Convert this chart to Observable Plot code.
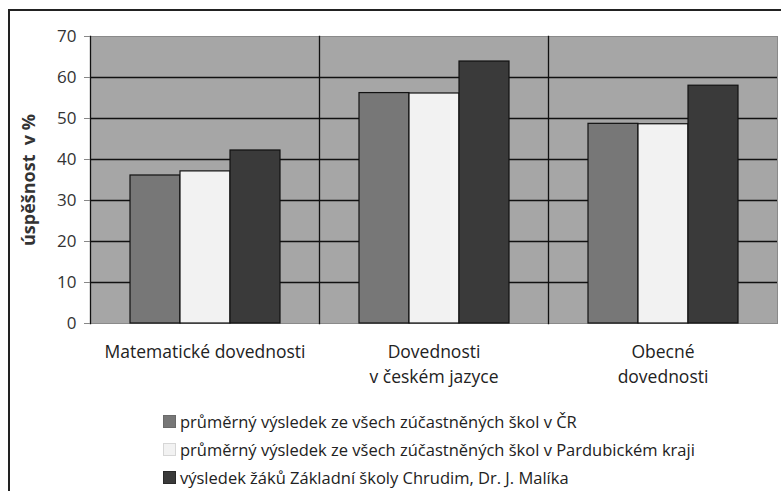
<!DOCTYPE html>
<html>
<head>
<meta charset="utf-8">
<script src="https://cdn.jsdelivr.net/npm/d3@7"></script>
<script src="https://cdn.jsdelivr.net/npm/@observablehq/plot@0.6"></script>
<style>
  html, body { margin: 0; padding: 0; background: #fff; }
  #wrap { position: relative; width: 781px; height: 491px; overflow: hidden; font-family: "Open Sans", sans-serif; }
  #border { position: absolute; left: 8px; top: 9px; width: 800px; height: 500px; border-left: 2px solid #222; border-top: 2px solid #222; }
  #chart { position: absolute; left: 0; top: 0; }
  #chart svg { font-family: "Open Sans", sans-serif; }
  #chart svg [aria-label="y-axis label"] text { font-weight: bold; font-size: 18px; }
  #legend { position: absolute; left: 163px; top: 407px; font-size: 16.5px; color: #222; }
  .item { display: flex; align-items: center; height: 28px; }
  .sw { width: 13px; height: 13px; margin-right: 4px; box-sizing: border-box; }
</style>
</head>
<body>
<div id="wrap">
  <div id="border"></div>
  <div id="chart"></div>
  <div id="legend"></div>
</div>
<script>
const categories = ["Matematické dovednosti", "Dovednosti\nv českém jazyce", "Obecné\ndovednosti"];
const series = [
  "průměrný výsledek ze všech zúčastněných škol v ČR",
  "průměrný výsledek ze všech zúčastněných škol v Pardubickém kraji",
  "výsledek žáků Základní školy Chrudim, Dr. J. Malíka"
];
const valuesCR = [36.1, 56.2, 48.7];
const valuesKraj = [37.1, 56.1, 48.6];
const valuesSchool = [42.2, 63.9, 58.0];
const colors = ["#777777", "#f2f2f2", "#3a3a3a"];
const yTicks = [0, 10, 20, 30, 40, 50, 60, 70];
const yLabel = "úspěšnost\u00a0 v %";

const seriesValues = [valuesCR, valuesKraj, valuesSchool];
const data = [];
categories.forEach((c, i) => {
  series.forEach((s, j) => data.push({category: c, series: s, value: seriesValues[j][i]}));
});

const H = 395;
const chart = Plot.plot({
  width: 781,
  height: H,
  marginLeft: 89,
  marginRight: 4,
  marginTop: 36,
  marginBottom: H - 323,
  fx: {domain: categories, padding: 0, label: null},
  x: {domain: series, paddingInner: 0, paddingOuter: 0.75, axis: null},
  y: {domain: [0, 70], label: yLabel, labelAnchor: "center"},
  color: {domain: series, range: colors},
  marks: [
    Plot.frame({fill: "#a6a6a6", stroke: "#8a8a8a"}),
    Plot.ruleY(yTicks.slice(1, -1), {stroke: "#111", strokeWidth: 1.3}),
    Plot.barY(data, {fx: "category", x: "series", y: "value", fill: "series", stroke: "#111", strokeWidth: 1.2, inset: 0}),
    Plot.frame({anchor: "left", stroke: "#111", strokeWidth: 1.3}),
    Plot.axisY({ticks: yTicks, tickSize: 6, stroke: "#888", tickPadding: 8, fontSize: 17, color: "#333", label: yLabel, labelAnchor: "center", labelOffset: 68, labelArrow: "none"}),
    Plot.axisFx({anchor: "bottom", tickSize: 0, tickPadding: 16, fontSize: 17.5, lineHeight: 1.45, color: "#222", label: null})
  ]
});
document.getElementById("chart").appendChild(chart);

const legend = document.getElementById("legend");
const borders = ["#6a6a6a", "#d6d6d6", "#2a2a2a"];
series.forEach((s, j) => {
  const item = document.createElement("div");
  item.className = "item";
  const sw = document.createElement("span");
  sw.className = "sw";
  sw.style.background = colors[j];
  sw.style.border = "1px solid " + borders[j];
  const t = document.createElement("span");
  t.textContent = s;
  item.appendChild(sw);
  item.appendChild(t);
  legend.appendChild(item);
});
</script>
</body>
</html>
